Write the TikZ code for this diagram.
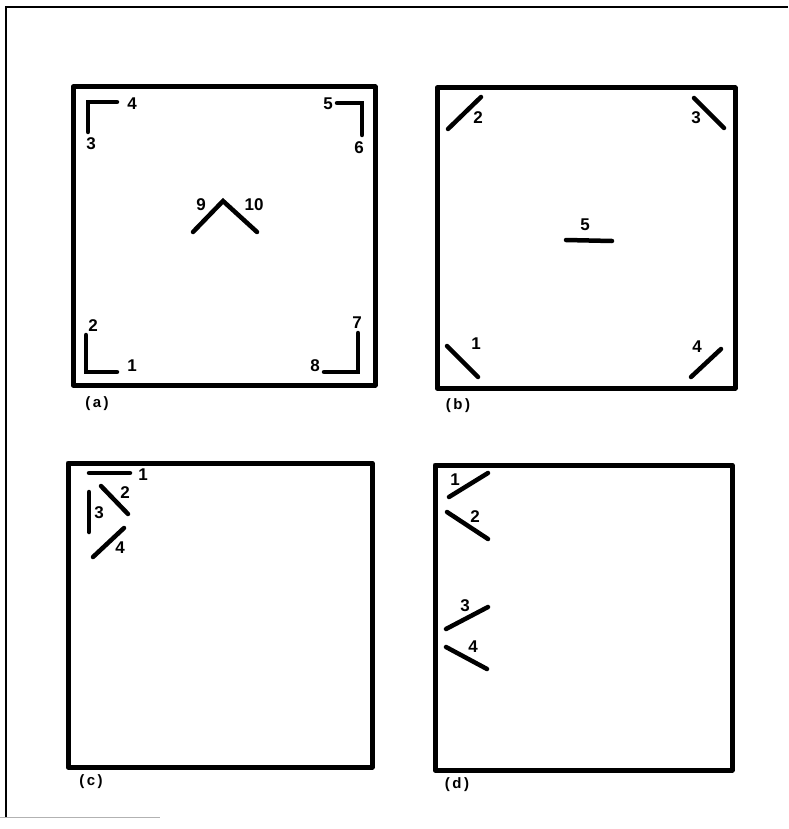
\documentclass[tikz,border=0pt]{standalone}
\usepackage{fontspec}
\setmainfont{Liberation Sans}
\begin{document}
\begin{tikzpicture}[x=1pt,y=-1pt,
  frame/.style={line width=5pt,line join=round},
  seg/.style={line width=4.5pt,line cap=round,line join=miter},
  num/.style={font=\fontsize{17}{17}\selectfont\bfseries,inner sep=0pt},
  panelcap/.style={font=\fontsize{15}{15}\selectfont\bfseries,inner sep=0pt}]
\useasboundingbox (0,0) rectangle (788,829);
% outer frame
\draw[line width=1.8pt] (6,817) -- (6,7) -- (788,7);
\draw[line width=1pt,gray!60] (0,817) -- (160,817);
% panels
\draw[frame] (73,87) rectangle (375,385);
\draw[frame] (437,88) rectangle (735,388);
\draw[frame] (68,463) rectangle (372,767);
\draw[frame] (435,465) rectangle (732,770);
\node[panelcap] (ca) at (97,404) {(\,a\,)};
\node[panelcap] (cb) at (458,406) {(\,b\,)};
\node[panelcap] (cc) at (91,782) {(\,c\,)};
\node[panelcap] (cd) at (457,785) {(\,d\,)};
% panel (a)
\draw[seg] (88,132) -- (88,102) -- (117,102);
\draw[seg] (337,103) -- (362,103) -- (362,135);
\draw[seg] (193,232) -- (223,201) -- (257,232);
\draw[seg] (86,335) -- (86,372) -- (117,372);
\draw[seg] (358,333) -- (358,372) -- (324,372);
\node[num] (a4) at (132,104) {4};
\node[num] (a3) at (91,144) {3};
\node[num] (a5) at (328,104) {5};
\node[num] (a6) at (359,148) {6};
\node[num] (a9) at (201,205) {9};
\node[num] (a10) at (254,205) {10};
\node[num] (a2) at (93,326) {2};
\node[num] (a1) at (132,366) {1};
\node[num] (a7) at (357,323) {7};
\node[num] (a8) at (315,366) {8};
% panel (b)
\draw[seg] (448,129) -- (481,97);
\draw[seg] (694,98) -- (724,128);
\draw[seg] (566,240) -- (612,241);
\draw[seg] (447,346) -- (478,377);
\draw[seg] (691,377) -- (721,349);
\node[num] (b2) at (478,118) {2};
\node[num] (b3) at (696,118) {3};
\node[num] (b5) at (585,225) {5};
\node[num] (b1) at (476,344) {1};
\node[num] (b4) at (697,347) {4};
% panel (c)
\draw[seg] (89,473) -- (130,473);
\draw[seg] (101,486) -- (128,514);
\draw[seg] (89,492) -- (89,532);
\draw[seg] (93,557) -- (124,528);
\node[num] (c1) at (143,475) {1};
\node[num] (c2) at (125,493) {2};
\node[num] (c3) at (99,513) {3};
\node[num] (c4) at (120,548) {4};
% panel (d)
\draw[seg] (449,497) -- (488,473);
\draw[seg] (447,512) -- (488,539);
\draw[seg] (446,629) -- (488,607);
\draw[seg] (446,647) -- (487,669);
\node[num] (d1) at (455,480) {1};
\node[num] (d2) at (475,517) {2};
\node[num] (d3) at (465,606) {3};
\node[num] (d4) at (473,647) {4};
\end{tikzpicture}
\end{document}
